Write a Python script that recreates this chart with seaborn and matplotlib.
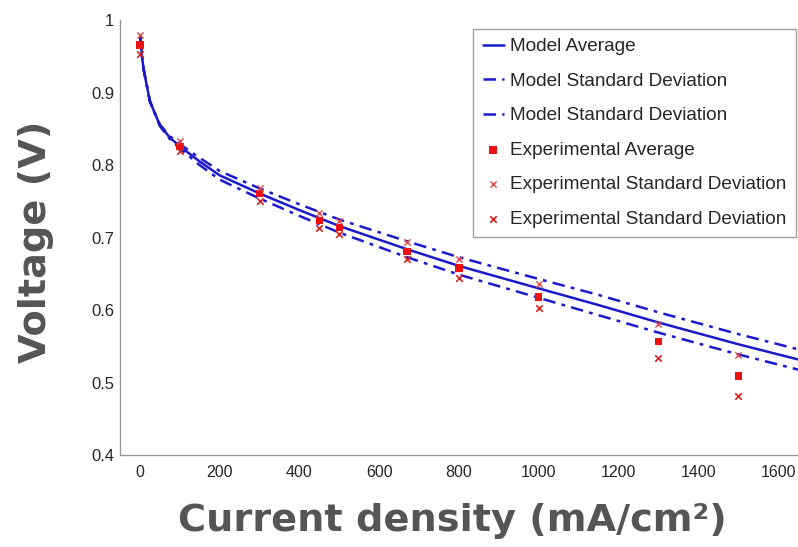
import matplotlib
matplotlib.use("Agg")
import matplotlib.pyplot as plt
import seaborn as sns
import pandas as pd

# Model curves
model_i = [1, 5, 10, 25, 50, 75, 100, 150, 200, 300, 400, 500, 670, 800, 1000, 1150, 1300, 1500, 1650]
model_avg = [0.976, 0.950, 0.930, 0.888, 0.855, 0.838, 0.826, 0.805, 0.786, 0.761, 0.738, 0.716, 0.684, 0.661, 0.630, 0.607, 0.583, 0.553, 0.532]
model_hi = [0.976, 0.950, 0.930, 0.888, 0.856, 0.840, 0.829, 0.810, 0.792, 0.768, 0.746, 0.725, 0.695, 0.673, 0.643, 0.621, 0.597, 0.567, 0.546]
model_lo = [0.976, 0.950, 0.930, 0.888, 0.854, 0.836, 0.823, 0.800, 0.780, 0.754, 0.730, 0.707, 0.673, 0.649, 0.617, 0.593, 0.569, 0.539, 0.518]

# Experimental data
exp_i = [0, 100, 300, 450, 500, 670, 800, 1000, 1300, 1500]
exp_avg = [0.966, 0.826, 0.761, 0.724, 0.714, 0.681, 0.658, 0.618, 0.557, 0.509]
exp_hi = [0.979, 0.833, 0.768, 0.734, 0.723, 0.694, 0.670, 0.636, 0.581, 0.538]
exp_lo = [0.954, 0.819, 0.750, 0.714, 0.705, 0.670, 0.644, 0.603, 0.534, 0.481]

x_ticks = [0, 200, 400, 600, 800, 1000, 1200, 1400, 1600]
y_ticks = [0.4, 0.5, 0.6, 0.7, 0.8, 0.9, 1.0]
y_tick_labels = ["0.4", "0.5", "0.6", "0.7", "0.8", "0.9", "1"]

sns.set_theme(style="white")
plt.rcParams['font.family'] = ['Liberation Sans', 'DejaVu Sans']

fig = plt.figure(figsize=(7.98, 5.47), dpi=100)
ax = fig.add_axes([0.1504, 0.168, 0.8496, 0.795])

mdf = pd.DataFrame({"i": model_i, "avg": model_avg, "hi": model_hi, "lo": model_lo})
edf = pd.DataFrame({"i": exp_i, "avg": exp_avg, "hi": exp_hi, "lo": exp_lo})

blue = "#1a1acc"
sns.lineplot(data=mdf, x="i", y="avg", ax=ax, color=blue, lw=1.8, label="Model Average")
sns.lineplot(data=mdf, x="i", y="hi", ax=ax, color=blue, lw=1.8, dashes=False,
             label="Model Standard Deviation").lines[-1].set_dashes([5, 2.5, 1.5, 2.5])
sns.lineplot(data=mdf, x="i", y="lo", ax=ax, color=blue, lw=1.8,
             label="Model Standard Deviation").lines[-1].set_dashes([5, 2.5, 1.5, 2.5])

sns.scatterplot(data=edf, x="i", y="avg", ax=ax, marker="s", color="#ee1111", s=28,
                edgecolor="none", label="Experimental Average", zorder=5)
sns.scatterplot(data=edf, x="i", y="hi", ax=ax, marker="x", color="#e04848", s=20,
                linewidth=1.0, label="Experimental Standard Deviation", zorder=5)
sns.scatterplot(data=edf, x="i", y="lo", ax=ax, marker="x", color="#d42020", s=22,
                linewidth=1.2, label="Experimental Standard Deviation", zorder=5)

ax.set_xlim(-50, 1650)
ax.set_ylim(0.4, 1.0)
ax.set_xticks(x_ticks)
ax.set_xticklabels([str(t) for t in x_ticks], fontsize=11.5)
ax.set_yticks(y_ticks)
ax.set_yticklabels(y_tick_labels, fontsize=12)
ax.tick_params(axis="both", direction="in", length=5, color="#999999", width=1, pad=4)
ax.tick_params(axis="x", pad=7)

for s in ["top", "right"]:
    ax.spines[s].set_visible(False)
for s in ["left", "bottom"]:
    ax.spines[s].set_color("#999999")
    ax.spines[s].set_linewidth(1.0)

ax.set_xlabel("Current density (mA/cm²)", fontsize=27.5, fontweight="bold",
              color="#555555", family="DejaVu Sans")
ax.set_ylabel("Voltage (V)", fontsize=27.5, fontweight="bold",
              color="#555555", family="DejaVu Sans")
ax.xaxis.set_label_coords(0.49, -0.11)
ax.yaxis.set_label_coords(-0.098, 0.49)

leg = ax.legend(loc="upper right", bbox_to_anchor=(1.0, 0.985), fontsize=13.7,
                frameon=True, fancybox=False, handlelength=1.1, handletextpad=0.35,
                labelspacing=0.9, borderpad=0.5, borderaxespad=0.1)
leg.get_frame().set_edgecolor("#888888")
leg.get_frame().set_linewidth(1.0)

fig.savefig("out.png", dpi=100)
